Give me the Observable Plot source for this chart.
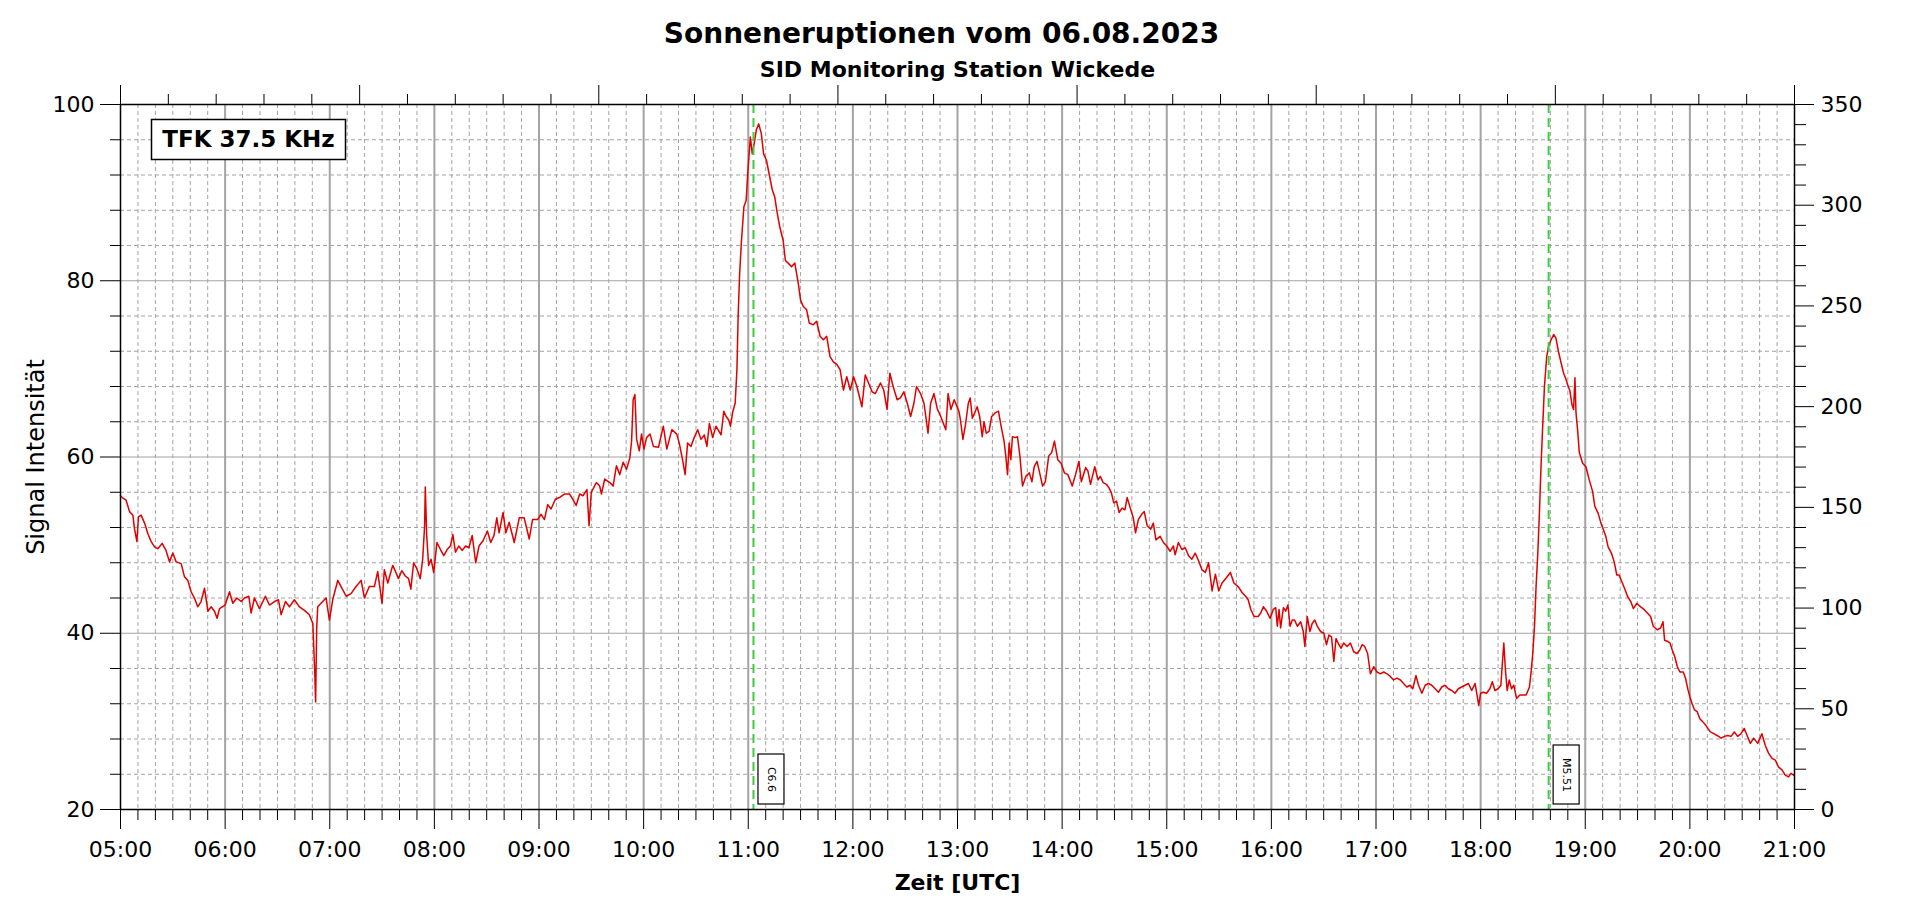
<!DOCTYPE html>
<html>
<head>
<meta charset="utf-8">
<script src="https://cdn.jsdelivr.net/npm/d3@7"></script>
<script src="https://cdn.jsdelivr.net/npm/@observablehq/plot@0.6"></script>
<style>
html, body { margin: 0; padding: 0; background: #fff; overflow: hidden; }
#chart svg { display: block; }
</style>
</head>
<body>
<div id="chart"></div>
<script>
// ---- texts ----
const title = "Sonneneruptionen vom 06.08.2023";
const subtitle = "SID Monitoring Station Wickede";
const xLabel = "Zeit [UTC]";
const yLabel = "Signal Intensität";
const stationLabel = "TFK 37.5 KHz";
const day = "2023-08-06";

// ---- tick labels ----
const hourLabels = ["05:00","06:00","07:00","08:00","09:00","10:00","11:00","12:00","13:00",
                    "14:00","15:00","16:00","17:00","18:00","19:00","20:00","21:00"];
const leftTicks = [20, 40, 60, 80, 100];
const rightTicks = [0, 50, 100, 150, 200, 250, 300, 350];

// ---- flares ----
const flareTimes = ["11:03", "18:39"];
const flareLabels = ["C6.6", "M5.51"];

// ---- signal series: minutes after 05:00 UTC and signal intensity ----
const minutes = [
  0,1,3.2,5.2,7.1,8,9.4,10.3,11.8,13.8,15.7,17.6,19.5,21.4,23.9,26.1,28.1,30,31.9,34.8,36.7,38.6,40.5,42.4,44.3,46.2,48.2,50.1,52,53.9,55.4,56.8,60,62.5,64.4,66.7,69.2,71.1,73.6,74.9,76.8,79.7,83.1,85.4,88.3,90.6,92.1,94.6,96.9,99.7,102.6,105.5,108.3,110.3,111.4,111.9,112.5,113.1,115,117.9,119.8,121.7,124.6,126.5,129.4,132.2,135.1,138,139.9,142.7,145.6,147.5,150,151.3,153.3,156.1,
  157.5,159.4,161.3,163.3,165.2,166.5,168.1,170,171.9,173.3,174.4,174.8,175.6,176.7,178.1,179.6,181.5,183.5,185.4,187.3,189.2,190.6,192.1,194,196,197.9,199.8,201.7,203.7,205.6,207.9,210.4,212.3,214.2,215.8,217.1,219.4,221,222.9,225.8,228.7,231.5,234.4,236.3,239.2,241.2,243.1,245,246.9,249.4,251.7,254.6,257.5,259.4,261.3,263.3,265.2,267.5,268.7,270,272.9,274.8,275.8,277.7,280.6,282.5,284.4,286.3,288.3,290.2,292.1,293.1,294,295,296,297.5,298.8,300.2,301.7,303.7,305.6,308.5,311.3,313.3,316.2,319,
  320.4,322.3,323.8,325.2,327.1,329,331,332.9,334.8,336.3,337.7,339.6,341.5,344.4,346,347.3,348.8,349.8,351.2,352.5,353.5,354.2,355,356,357.5,358.8,359.8,361.2,362.3,363.7,364.6,366,367.5,368.8,370.4,372.3,373.8,375.2,376.7,378.1,380,381.3,382.9,384.8,386.7,388.7,390,391.5,393.5,395,397.3,399.2,401.2,403.1,405,406.9,408.8,410.8,412.7,414.6,416.5,418.5,420.4,422.3,424.2,425.2,427.1,429,431,432.9,435.8,437.7,439.6,441.2,443.1,445.4,447.3,449.2,451.2,453.1,455,456.5,458.8,460.8,463.1,464.6,466.5,468.5,470.4,473.3,474.6,476.2,478.1,
  480.8,481.7,483.1,484.6,486.2,487.3,488.5,489.8,491.3,492.7,494.2,495.2,496.5,498.1,499.6,501.5,503.5,504.8,506.7,507.7,508.7,509.6,510.6,511.5,513.1,514.4,515.8,517.3,519.2,521.2,522.7,524,525.6,526.9,528.8,530.4,532.3,534,535.6,537.5,539.4,541.3,543.3,545.8,547.7,549.6,551,553.5,554.8,556.3,558.7,560.6,561.9,563.5,565.4,566.9,568.3,569.6,571.2,572.7,574.4,576,577.3,578.8,580.8,582.1,583.7,585.6,587.1,588.8,590.8,592.3,593.8,596.2,598.1,600,601.9,603.8,604.8,606.7,608.7,610.6,612.5,614.4,616.3,618.3,620.2,622.1,624,626,627.9,629.8,631.7,634.2,636.5,638.5,641.3,643.3,645.2,
  646.7,648.2,650.1,652.4,653.9,655.4,657.3,659.2,661.1,662.5,663.4,664.4,665.3,666.9,668.2,669.5,670.7,672,673.3,674.9,676.8,678.3,679.2,680.6,682.1,683.4,684.9,686.3,688.2,690.1,691.6,693,694.5,695.8,697.1,698.7,700,701.5,703.4,705.3,707.2,709.1,710.7,712,713.5,715.2,716.8,718.7,720.6,722.5,724.4,726.3,728.2,730.1,732,734,735.8,737.7,739.6,741.1,742.9,744.4,746.3,748.2,750.1,752,753.9,755.8,757.7,759.6,761.5,763.4,765.3,767.2,769.1,771.1,773,774.9,776.8,778.1,778.9,780,781.5,783.4,785.3,786.7,788.2,790.1,791.6,792.6,793.3,794.1,795.2,796.4,797.7,799,800.6,802.5,804.4,806.1,
  808,808.9,809.9,810.9,811.8,812.8,813.7,814.7,815.6,816.6,817.9,819,820.4,821.9,823.2,824.6,826.1,827.6,829,829.9,831.2,832.4,833.3,834.1,834.7,835.6,836.6,838.5,840.4,842.3,844.2,845.5,847.4,849,850.5,851.8,853.1,855,856.6,858.1,859.4,861.3,862.9,864.2,866.1,867.6,869.5,871.8,873.7,875.6,877.5,879,881.3,883.2,884.6,885.5,887,888.6,889.9,891.4,892.8,894.3,896.2,897.5,898.9,900,901.3,902.7,904.2,905.7,907.2,909,910.3,911.8,913.7,915.6,917.9,919.8,921.7,923.6,925.5,927.4,929.3,931.2,932.8,934.7,936.6,938.9,941.3,943.2,945.1,947.1,949,950.9,952.8,954.7,956.6,958,959.5,960
];
const signal = [
  55.6,55.4,55.1,53.8,53.4,51.9,50.4,53.2,53.4,52.5,51.3,50.4,49.8,49.6,50.2,49.4,48.1,49.1,48.1,47.9,46.4,46.0,44.7,44.0,43.0,43.6,45.1,42.5,43.0,42.5,41.7,42.8,43.2,44.7,43.4,44.0,43.6,44.0,44.2,42.3,44.0,42.8,44.2,43.2,43.6,43.8,42.1,43.6,43.0,43.8,43.0,42.6,42.1,41.1,35.5,32.2,40.5,43.0,43.4,44.0,41.5,43.8,46.0,45.3,44.2,44.5,45.3,46.0,44.0,45.3,45.3,47.0,43.4,47.2,45.7,47.7,
  47.1,46.2,47.1,46.5,46.2,45.0,48.0,47.3,46.2,48.4,52.2,56.6,51.1,47.7,48.4,46.9,50.3,49.5,48.8,49.5,49.9,51.2,49.2,49.9,49.4,49.9,49.7,51.1,48.0,49.9,50.5,51.6,50.3,51.1,53.1,51.4,53.7,51.4,52.6,50.3,53.1,53.1,50.7,52.9,52.9,53.5,52.9,54.6,54.1,55.2,55.4,55.8,55.8,55.2,54.5,55.8,55.6,56.3,52.2,56.0,57.1,56.7,55.8,57.5,57.1,56.7,59.0,58.0,59.4,58.6,59.9,61.8,66.5,67.1,62.0,60.7,62.6,60.9,62.2,62.6,61.2,61.1,63.5,60.9,63.1,62.6,
  61.6,59.7,58.0,61.6,61.2,62.2,63.1,62.0,62.5,61.2,63.8,62.2,63.5,62.5,65.2,64.6,64.2,63.5,65.2,66.1,69.9,75.9,80.5,84.2,88.4,89.1,92.5,96.3,94.4,95.9,97.1,97.8,96.7,94.4,93.7,91.8,90.3,89.5,87.6,86.1,84.6,82.3,82.0,81.6,82.0,79.7,77.8,77.1,76.7,75.2,75.0,75.4,73.7,73.3,73.7,71.4,70.8,70.5,69.9,67.6,69.1,67.6,69.1,68.0,66.5,65.7,69.3,68.4,67.4,67.2,68.4,67.6,65.4,69.5,68.0,66.5,66.7,67.4,66.1,64.6,66.1,68.0,67.2,66.1,62.7,66.1,67.2,65.4,64.6,63.1,67.2,65.4,66.5,
  65.2,64.2,62.0,63.7,66.1,66.7,64.4,65.0,65.7,64.6,62.3,64.0,62.7,62.9,64.6,65.0,65.2,63.7,61.8,60.1,58.0,61.6,59.7,62.3,62.2,62.3,60.1,56.7,57.8,58.2,57.2,58.9,59.5,58.4,56.7,57.2,60.1,60.5,61.8,59.7,59.3,58.2,58.0,56.7,58.0,59.5,57.2,58.8,58.4,56.9,58.9,57.4,57.8,57.1,56.9,56.5,55.9,54.8,55.0,53.7,54.2,54.0,55.4,54.4,53.1,51.4,52.9,53.5,53.8,52.2,51.8,52.5,50.6,51.0,50.3,49.9,49.3,49.9,48.9,50.3,49.5,49.7,48.8,48.4,49.1,48.2,47.2,46.9,48.0,44.8,46.7,44.8,45.7,46.3,46.9,45.7,45.2,44.6,44.2,
  43.8,42.7,41.9,41.9,42.3,43.0,42.5,41.7,42.7,42.9,40.8,42.7,40.6,42.9,42.5,43.2,40.8,41.5,41.5,40.8,41.3,40.2,38.5,41.9,40.2,41.1,41.5,40.8,40.2,40.0,38.7,39.8,39.6,36.8,39.4,38.7,38.3,38.9,38.5,38.9,37.9,37.7,38.1,38.7,38.5,37.7,35.4,36.2,35.6,35.4,35.6,35.4,35.1,34.7,34.9,34.7,34.3,33.9,34.1,33.7,35.2,34.1,33.2,34.1,34.3,34.1,33.7,33.3,33.9,34.1,33.7,33.5,33.2,33.7,33.9,34.1,34.3,33.5,34.3,32.8,31.8,33.2,33.3,33.2,33.7,34.5,33.5,33.7,34.1,37.0,38.9,36.2,33.5,34.7,33.7,34.1,32.6,33.0,33.0,33.0,
  33.9,35.5,37.7,40.8,45.3,49.1,53.6,59.3,63.5,68.0,71.4,72.6,73.3,73.9,73.5,72.0,70.7,69.5,68.8,68.2,67.5,65.9,65.4,69.0,65.0,63.1,60.5,59.3,58.9,57.4,56.1,54.4,53.6,52.5,51.7,51.0,49.8,49.1,48.1,46.6,46.6,45.7,44.9,44.2,43.6,42.8,43.4,43.0,42.7,42.3,41.9,40.8,40.4,40.6,41.3,39.2,39.1,38.9,38.1,37.3,36.2,35.6,35.6,34.9,33.6,32.8,32.0,31.3,31.1,30.3,30.0,29.6,29.2,28.8,28.6,28.4,28.1,28.3,28.4,28.3,28.8,28.3,28.6,29.2,28.4,27.5,28.1,27.5,28.6,27.3,26.4,25.8,25.6,24.8,24.5,23.9,23.7,24.1,23.9,24.0
];

// ---- derived tables ----
const toDate = hm => new Date(`${day}T${hm}:00Z`);
const hours = hourLabels.map(toDate);
const start = hours[0], end = hours[hours.length - 1];
const data = minutes.map((m, i) => ({t: new Date(+start + m * 60000), v: signal[i]}));
const hourLabelByTime = new Map(hours.map((d, i) => [+d, hourLabels[i]]));
const tenMinutes = d3.utcMinute.every(10).range(start, new Date(+end + 1));
const minorTimes = tenMinutes.filter(d => d.getUTCMinutes() !== 0);
const topTicks = d3.range(36).map(i => new Date(+start + i * (end - start) / 35));
const leftMinor = d3.range(20, 100.01, 4).filter(v => v % 20 !== 0);
const toLeft = r => 20 + r * 80 / 350;
const rightLabelByValue = new Map(rightTicks.map(r => [toLeft(r).toFixed(4), String(r)]));
const rightMinor = d3.range(0, 351, 10).filter(r => r % 50 !== 0).map(toLeft);
const flares = flareTimes.map((hm, i) => ({t: toDate(hm), label: flareLabels[i]}));

const grid = "#a3a3a3";
const frameH = 904 - 104 - 95;
const empty = () => "";

const flareMarks = flares.flatMap(f => {
  const h = 14 + 9 * f.label.length;
  return [
    Plot.rect([f], {x1: "t", x2: "t", insetLeft: -13, insetRight: -13, dx: 18,
      insetBottom: 5, insetTop: frameH - 5 - h, fill: "white", stroke: "black", strokeWidth: 1.2}),
    Plot.text([f], {x: "t", text: "label", frameAnchor: "bottom", rotate: 90, dx: 18, dy: -5 - h / 2,
      fontSize: 11, textAnchor: "middle", lineAnchor: "middle", fill: "black"})
  ];
});

const chart = Plot.plot({
  width: 1920,
  height: 904,
  marginTop: 104,
  marginLeft: 120,
  marginRight: 126,
  marginBottom: 95,
  style: {fontFamily: "DejaVu Sans", background: "white", color: "black"},
  x: {type: "utc", domain: [start, end]},
  y: {domain: [20, 100]},
  marks: [
    // grid
    Plot.ruleY(leftMinor, {stroke: grid, strokeWidth: 1, strokeDasharray: "4,3"}),
    Plot.ruleX(minorTimes, {stroke: grid, strokeWidth: 1, strokeDasharray: "4,3"}),
    Plot.ruleY(leftTicks.slice(1, -1), {stroke: grid, strokeWidth: 1.2}),
    Plot.ruleX(hours.slice(1, -1), {stroke: grid, strokeWidth: 2}),
    // signal
    Plot.line(data, {x: "t", y: "v", stroke: "#e00000", strokeWidth: 1.5}),
    // flares
    Plot.ruleX(flares, {x: "t", stroke: "#3dcc3d", strokeWidth: 2, strokeDasharray: "9,5"}),
    ...flareMarks,
    // station legend box
    Plot.frame({insetLeft: 31, insetRight: 1794 - 345, insetTop: 15, insetBottom: 809 - 159,
      fill: "white", stroke: "black", strokeWidth: 1.5}),
    Plot.text([stationLabel], {text: d => d, frameAnchor: "top-left", dx: 128, dy: 35,
      textAnchor: "middle", lineAnchor: "middle", fontSize: 23, fontWeight: "bold", fill: "black"}),
    // axes
    Plot.axisX({anchor: "bottom", ticks: hours, tickSize: 20, tickPadding: 12,
      tickFormat: d => hourLabelByTime.get(+d), fontSize: 22, label: null}),
    Plot.axisX({anchor: "bottom", ticks: minorTimes, tickSize: 11, tickFormat: empty, label: null}),
    Plot.axisX({anchor: "top", ticks: topTicks.filter((d, i) => i % 5 === 0), tickSize: 20, tickFormat: empty, label: null}),
    Plot.axisX({anchor: "top", ticks: topTicks.filter((d, i) => i % 5 !== 0), tickSize: 11, tickFormat: empty, label: null}),
    Plot.axisY({anchor: "left", ticks: leftTicks, tickSize: 20, tickPadding: 6, fontSize: 22, label: null}),
    Plot.axisY({anchor: "left", ticks: leftMinor, tickSize: 10, tickFormat: empty, label: null}),
    Plot.axisY({anchor: "right", ticks: rightTicks.map(toLeft), tickSize: 19, tickPadding: 7,
      tickFormat: v => rightLabelByValue.get(v.toFixed(4)), fontSize: 22, label: null}),
    Plot.axisY({anchor: "right", ticks: rightMinor, tickSize: 11, tickFormat: empty, label: null}),
    Plot.frame({stroke: "black", strokeWidth: 1.5}),
    // titles and axis labels
    Plot.text([title], {text: d => d, frameAnchor: "top", dx: -16, dy: -62, lineAnchor: "bottom",
      fontSize: 28, fontWeight: "bold", fill: "black"}),
    Plot.text([subtitle], {text: d => d, frameAnchor: "top", dy: -28, lineAnchor: "bottom",
      fontSize: 22, fontWeight: "bold", fill: "black"}),
    Plot.text([xLabel], {text: d => d, frameAnchor: "bottom", dy: 80, lineAnchor: "bottom",
      fontSize: 22, fontWeight: "bold", fill: "black"}),
    Plot.text([yLabel], {text: d => d, frameAnchor: "left", dx: -77, rotate: -90, lineAnchor: "bottom",
      textAnchor: "middle", fontSize: 24, fill: "black"})
  ]
});

document.getElementById("chart").appendChild(chart);
</script>
</body>
</html>
